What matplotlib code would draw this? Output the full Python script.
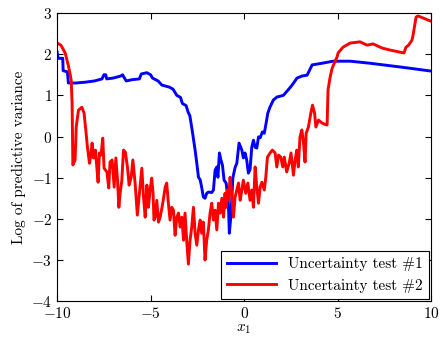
import matplotlib
matplotlib.use("Agg")
import matplotlib.pyplot as plt

plt.rcParams['font.family'] = ['cmr10']
plt.rcParams['mathtext.fontset'] = 'cm'
plt.rcParams['axes.formatter.use_mathtext'] = True
plt.rcParams['font.size'] = 11

blue_x = [-10, -9.95, -9.7, -9.68, -9.45, -9.4, -9.0, -8.5, -8.0, -7.6, -7.5, -7.4, -7.35, -7.0,
          -6.6, -6.5, -6.4, -6.3, -6.0, -5.6, -5.5, -5.2, -5.0, -4.9, -4.6, -4.4, -4.0, -3.8,
          -3.6, -3.4, -3.3, -3.1, -3.0, -2.9, -2.78, -2.62, -2.53, -2.44, -2.35, -2.27, -2.18,
          -2.09, -2.0, -1.91, -1.73, -1.64, -1.55, -1.46, -1.4, -1.32, -1.24, -1.16, -1.07,
          -0.96, -0.84, -0.79, -0.7, -0.6, -0.48, -0.39, -0.27, -0.12, -0.04, 0.05, 0.14,
          0.23, 0.32, 0.41, 0.5, 0.59, 0.68, 0.77, 0.86, 0.98, 1.08, 1.16, 1.27, 1.39, 1.57,
          1.76, 2.1, 2.35, 2.57, 2.83, 3.1, 3.37, 3.64, 4.17, 4.76, 5.67, 6.74, 8.34, 10]
blue_y = [2.05, 1.9, 1.9, 1.6, 1.57, 1.3, 1.3, 1.32, 1.35, 1.4, 1.5, 1.5, 1.4, 1.42,
          1.47, 1.5, 1.42, 1.35, 1.38, 1.4, 1.52, 1.55, 1.5, 1.42, 1.35, 1.25, 1.2, 1.15,
          1.0, 0.95, 0.8, 0.75, 0.6, 0.5, 0.16, -0.33, -0.65, -0.99, -1.05, -1.23, -1.47,
          -1.5, -1.38, -1.35, -1.36, -1.3, -0.82, -0.74, -0.99, -0.4, -0.57, -0.69, -1.06,
          -1.13, -1.62, -2.35, -1.9, -1.0, -0.75, -0.65, -0.16, -0.33, -0.52, -0.4, -0.57,
          -0.89, -0.8, -0.26, -0.09, -0.26, -0.28, -0.01, -0.03, 0.11, 0.08, 0.28, 0.57, 0.72, 0.89,
          0.96, 1.0, 1.13, 1.25, 1.42, 1.47, 1.49, 1.74, 1.78, 1.83, 1.83, 1.78, 1.69, 1.59]

red_x = [-10, -9.8, -9.57, -9.41, -9.3, -9.25, -9.2, -9.16, -9.04, -8.98, -8.86, -8.68, -8.56,
         -8.45, -8.38, -8.27, -8.2, -8.13, -8.06, -7.95, -7.88, -7.81, -7.74, -7.65, -7.56,
         -7.49, -7.34, -7.24, -7.17, -7.06, -6.95, -6.86, -6.77, -6.7, -6.63, -6.54, -6.45,
         -6.35, -6.24, -6.15, -6.04, -5.95, -5.83, -5.71, -5.6, -5.47, -5.38, -5.29, -5.2,
         -5.12, -5.03, -4.94, -4.87, -4.82, -4.76, -4.67, -4.58, -4.49, -4.35, -4.22, -4.14,
         -4.05, -3.96, -3.87, -3.78, -3.69, -3.6, -3.51, -3.42, -3.33, -3.24, -3.16, -3.06,
         -2.98, -2.89, -2.8, -2.71, -2.62, -2.53, -2.44, -2.35, -2.27, -2.18, -2.09, -2.0,
         -1.91, -1.82, -1.73, -1.64, -1.55, -1.46, -1.37, -1.28, -1.19, -1.1, -1.02, -0.97,
         -0.9, -0.83, -0.75, -0.66, -0.57, -0.48, -0.39, -0.3, -0.21, -0.12, -0.04, 0.09,
         0.2, 0.32, 0.41, 0.5, 0.59, 0.68, 0.77, 0.86, 0.95, 1.08, 1.16, 1.25, 1.39, 1.51,
         1.66, 1.75, 1.84, 1.96, 2.07, 2.15, 2.28, 2.41, 2.51, 2.64, 2.73, 2.82, 2.9, 2.99,
         3.09, 3.18, 3.26, 3.32, 3.44, 3.57, 3.66, 3.77, 3.84, 3.98, 4.16, 4.3, 4.44, 4.49,
         4.6, 4.71, 4.97, 5.03, 5.29, 5.67, 6.2, 6.58, 6.9, 7.38, 7.81, 8.34, 8.55, 8.66,
         8.8, 8.98, 9.04, 9.2, 9.3, 10]
red_y = [2.27, 2.22, 2.03, 1.74, 1.5, 1.37, 0.81, -0.69, -0.57, 0.23, 0.64, 0.71, 0.57,
         0.08, -0.26, -0.65, -0.45, -0.16, -0.52, -0.33, -0.74, -1.11, -0.4, -0.45, -0.04,
         -0.77, -0.86, -1.25, -0.62, -0.57, -1.23, -0.52, -1.06, -1.72, -1.38, -1.06, -0.33,
         -0.38, -0.74, -1.18, -0.99, -0.57, -1.13, -1.91, -1.38, -0.77, -1.47, -1.96, -1.18,
         -1.72, -1.3, -1.01, -1.38, -2.03, -1.96, -1.55, -2.08, -1.96, -1.62, -1.23, -1.13,
         -1.62, -2.03, -1.72, -1.79, -2.4, -1.96, -1.86, -2.2, -1.96, -2.52, -1.86, -2.59,
         -3.1, -2.52, -2.2, -1.72, -2.35, -2.64, -2.27, -2.03, -2.35, -2.08, -3.0, -2.52,
         -2.27, -1.86, -1.62, -2.03, -1.79, -2.27, -1.62, -1.86, -1.5, -1.96, -1.38, -1.72,
         -1.3, -1.55, -0.99, -1.38, -1.96, -1.47, -1.3, -1.13, -1.55, -1.3, -1.06, -1.38,
         -1.13, -1.55, -1.3, -1.72, -0.74, -1.23, -1.62, -1.23, -1.11, -1.3, -0.99, -0.5, -0.4, -0.33,
         -0.4, -0.74, -0.45, -0.5, -0.74, -0.5, -0.86, -0.65, -0.4, -0.94, -0.57, -0.33, -0.74, -0.01,
         0.16, -0.16, -0.62, 0.08, 0.23, 0.57, 0.76, 0.57, 0.23, 0.4, 0.33, 0.3, 0.28, 1.13,
         1.44, 1.66, 1.93, 2.03, 2.17, 2.27, 2.3, 2.22, 2.25, 2.15, 2.1, 2.05, 2.03, 2.17,
         2.22, 2.34, 2.47, 2.9, 2.93, 2.8]

labels = ['Uncertainty test #1', 'Uncertainty test #2']

fig = plt.figure(figsize=(4.43, 3.43), dpi=100)
ax = fig.add_axes([0.129, 0.122, 0.844, 0.84])
ax.plot(blue_x, blue_y, color='blue', lw=2.1, label=labels[0])
ax.plot(red_x, red_y, color='red', lw=2.1, label=labels[1])
ax.set_xlim(-10, 10)
ax.set_ylim(-4, 3)
ax.set_xticks([-10, -5, 0, 5, 10])
ax.set_yticks(range(-4, 4))
ax.tick_params(direction='in', top=True, right=True, length=4, width=0.8)
ax.set_xlabel('$x_1$', labelpad=1)
ax.set_ylabel('Log of predictive variance')
leg = ax.legend(loc='lower right', fancybox=False, edgecolor='black', framealpha=1,
                borderaxespad=0.15, handlelength=3.2)
leg.get_frame().set_linewidth(0.8)
fig.savefig('out.png', dpi=100)
